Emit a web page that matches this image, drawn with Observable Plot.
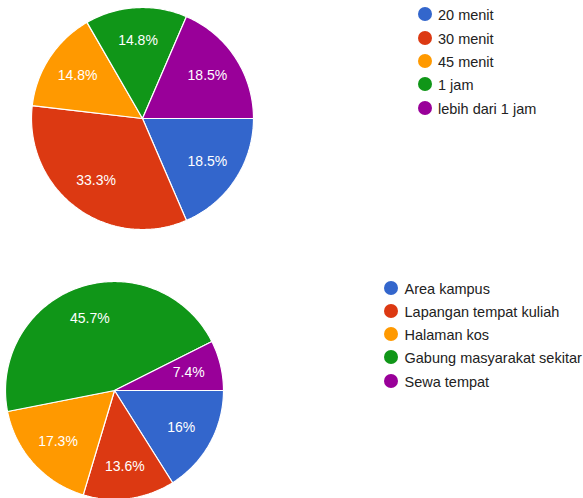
<!DOCTYPE html>
<html><head><meta charset="utf-8">
<script src="https://cdn.jsdelivr.net/npm/d3@7"></script>
<script src="https://cdn.jsdelivr.net/npm/@observablehq/plot@0.6"></script>
<style>
body{margin:0;background:#fff;}
#root{position:relative;width:583px;height:498px;overflow:hidden;font-family:Arial,"Liberation Sans",sans-serif;background:#fff;}
.pie{position:absolute;}
.sw{position:absolute;width:14px;height:14px;border-radius:50%;}
.lt{position:absolute;height:20px;line-height:20px;font-size:14.5px;color:#222;white-space:nowrap;}
</style>
</head><body>
<div id="root"></div>
<script>
// Chart 1: duration
const durasiLabels = ["20 menit", "30 menit", "45 menit", "1 jam", "lebih dari 1 jam"];
const durasiCounts = [5, 9, 4, 4, 5];
// Chart 2: place
const tempatLabels = ["Area kampus", "Lapangan tempat kuliah", "Halaman kos", "Gabung masyarakat sekitar", "Sewa tempat"];
const tempatCounts = [13, 11, 14, 37, 6];
const palette = ["#3366cc", "#dc3912", "#ff9900", "#109618", "#990099"];

const root = document.getElementById("root");

function pieChart(labels, values, r, cx, cy) {
  const total = d3.sum(values);
  const arcs = d3.pie().sort(null).startAngle(Math.PI / 2).endAngle(Math.PI / 2 + 2 * Math.PI)(values);
  const pts = [];
  arcs.forEach((a, i) => {
    const name = labels[i];
    pts.push({name, x: 0, y: 0});
    const n = Math.max(2, Math.ceil((a.endAngle - a.startAngle) / (Math.PI / 180)));
    for (let k = 0; k <= n; k++) {
      const t = a.startAngle + (a.endAngle - a.startAngle) * k / n;
      pts.push({name, x: Math.sin(t), y: Math.cos(t)});
    }
    pts.push({name, x: 0, y: 0});
  });
  const lab = arcs.map((a, i) => {
    const m = (a.startAngle + a.endAngle) / 2;
    const pct = +(values[i] / total * 100).toFixed(1);
    return {x: 0.7 * Math.sin(m), y: 0.7 * Math.cos(m), text: pct + "%"};
  });
  const w = 2 * r + 2;
  const svg = Plot.plot({
    width: w, height: w, margin: 1,
    x: {domain: [-1, 1], axis: null},
    y: {domain: [-1, 1], axis: null},
    color: {domain: labels, range: palette},
    style: {fontFamily: "Arial, 'Liberation Sans', sans-serif", fontSize: "14px", background: "transparent", overflow: "visible"},
    marks: [
      Plot.line(pts, {x: "x", y: "y", z: "name", fill: "name", stroke: "white", strokeWidth: 1.2, strokeLinejoin: "miter"}),
      Plot.text(lab, {x: "x", y: "y", text: "text", fill: "white", fontSize: 14})
    ]
  });
  svg.classList.add("pie");
  svg.style.left = (cx - w / 2) + "px";
  svg.style.top = (cy - w / 2) + "px";
  root.appendChild(svg);
}

function legend(labels, cx, cy0, step, tx) {
  labels.forEach((name, i) => {
    const cy = cy0 + i * step;
    const sw = document.createElement("div");
    sw.className = "sw";
    sw.style.left = (cx - 7) + "px";
    sw.style.top = (cy - 7) + "px";
    sw.style.background = palette[i];
    root.appendChild(sw);
    const t = document.createElement("div");
    t.className = "lt";
    t.textContent = name;
    t.style.left = tx + "px";
    t.style.top = (cy + 1 - 10) + "px";
    root.appendChild(t);
  });
}

pieChart(durasiLabels, durasiCounts, 111, 142, 118);
pieChart(tempatLabels, tempatCounts, 109, 114, 389.5);
legend(durasiLabels, 425, 14.3, 23.3, 438);
legend(tempatLabels, 391, 287.5, 23.3, 404.5);
</script>
</body></html>
